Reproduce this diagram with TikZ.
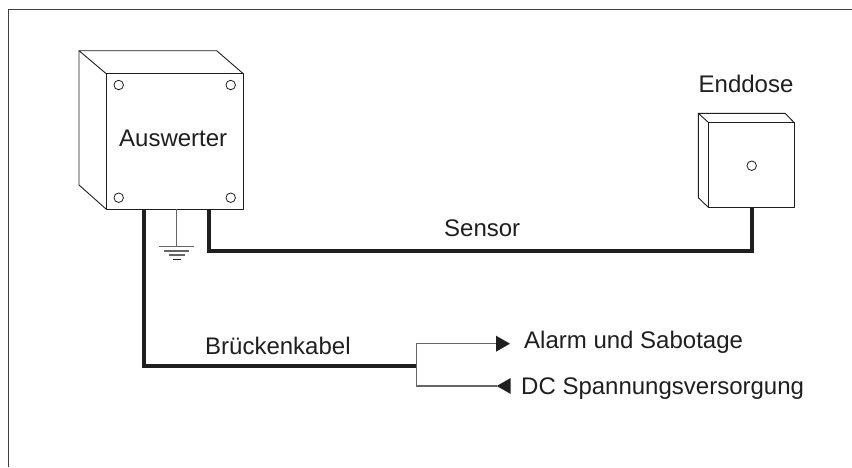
\documentclass[tikz,border=0pt]{standalone}
\usepackage{fontspec}
\setmainfont{Liberation Sans}
\definecolor{ink}{gray}{0.12}
\tikzset{
  thin line/.style={draw=ink,line width=0.9pt,line join=round},
  frame line/.style={draw=black!75,line width=1.1pt},
  cable/.style={draw=ink,line width=3.8pt,line join=miter},
  wire/.style={draw=black!60,line width=1.3pt},
  screw/.style={circle,draw=ink,line width=0.8pt,minimum size=9.5pt,inner sep=0pt,fill=white},
  label/.style={text=ink,font=\fontsize{24pt}{26pt}\selectfont,inner sep=0pt,anchor=base west},
  tip/.style={fill=ink,draw=none}
}
\begin{document}
\begin{tikzpicture}[x=1pt,y=-1pt]
\useasboundingbox (0,0) rectangle (852,467);
\fill[white] (0,0) rectangle (852,467);
\draw[frame line] (8.5,467) -- (8.5,9.5) -- (852,9.5);
% Auswerter box
\coordinate (aTL) at (106,73.5); \coordinate (aTR) at (243,73.5);
\coordinate (aBL) at (106,209); \coordinate (aBR) at (243,209);
\draw[thin line] (aTL) rectangle (aBR);
\draw[thin line] (aTL) -- (79,50.7) -- (216.7,50.7) -- (aTR);
\draw[thin line] (79,50.7) -- (79,185) -- (aBL);
\node[screw] (s1) at (118.7,85) {};
\node[screw] (s2) at (230.7,85) {};
\node[screw] (s3) at (118.7,197.7) {};
\node[screw] (s4) at (230.7,197.7) {};
\node[label] (auswerter) at (119,146) {Auswerter};
% Enddose box
\coordinate (eTL) at (708.7,122.7); \coordinate (eTR) at (794.3,122.7);
\coordinate (eBL) at (708.7,207.7); \coordinate (eBR) at (794.3,207.7);
\draw[thin line] (eTL) rectangle (eBR);
\draw[thin line] (eTL) -- (698.3,113.3) -- (785,113.3) -- (eTR);
\draw[thin line] (698.3,113.3) -- (698.3,197.7) -- (eBL);
\node[screw] (s5) at (751.7,165.7) {};
\node[label] (enddose) at (698.5,92.5) {Enddose};
% Ground
\coordinate (gtop) at (176,209); \coordinate (g1) at (176,246.7);
\draw[thin line,draw=black!60] (gtop) -- (g1);
\draw[wire] (159.3,246.7) -- (194,246.7);
\draw[wire] (164,250.9) -- (189,250.9);
\draw[wire] (168.5,255) -- (185,255);
\draw[thin line,line width=1.1pt] (172.5,259.3) -- (180.5,259.3);
% Cables
\coordinate (c1) at (209.3,209); \coordinate (c2) at (751.7,207.7);
\draw[cable] (c1) -- (209.3,250.7) -- (751.7,250.7) -- (c2);
\coordinate (b1) at (144.3,209); \coordinate (b2) at (416.7,365.7);
\draw[cable] (b1) -- (144.3,365.7) -- (b2);
% Branch
\coordinate (up) at (497,343.7); \coordinate (low) at (497,386);
\draw[wire] (up) -- (416.7,343.7) -- (416.7,386) -- (low);
\fill[tip] (496,335.7) -- (510,343.7) -- (496,351.7) -- cycle;
\fill[tip] (510.7,378) -- (496.7,386) -- (510.7,394) -- cycle;
% Labels
\node[label] (sensor) at (444,236) {Sensor};
\node[label] (kabel) at (205,354.5) {Brückenkabel};
\node[label] (alarm) at (524,348) {Alarm und Sabotage};
\node[label] (dc) at (521,394.5) {DC Spannungsversorgung};
\end{tikzpicture}
\end{document}
